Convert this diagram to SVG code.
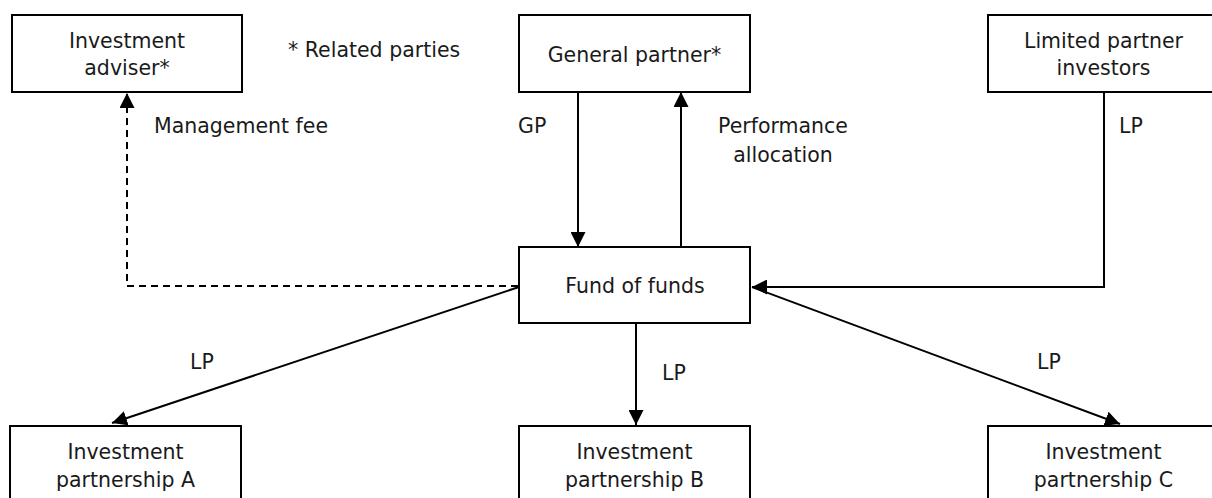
<svg xmlns="http://www.w3.org/2000/svg" width="1212" height="498" viewBox="0 0 1212 498">
<style>
.box{fill:#fff;stroke:#000;stroke-width:2}
.t{font-family:"DejaVu Sans",sans-serif;font-size:20.5px;fill:#1a1a1a}
.c{text-anchor:middle}
.ln{fill:none;stroke:#000;stroke-width:2}
.dash{stroke-dasharray:7,5}
</style>
<defs>
<marker id="ah" viewBox="0 0 15 15" refX="15" refY="7.5" markerWidth="15" markerHeight="15" markerUnits="userSpaceOnUse" orient="auto">
<path d="M0,0 L15,7.5 L0,15 Z" fill="#000"/>
</marker>
</defs>
<rect width="1212" height="498" fill="#fff"/>
<g id="connectors">
<path class="ln dash" d="M518,286 H127 V93" marker-end="url(#ah)"/>
<path class="ln" d="M578,92 V247" marker-end="url(#ah)"/>
<path class="ln" d="M681,247 V92" marker-end="url(#ah)"/>
<path class="ln" d="M1104,92 V287 H752" marker-end="url(#ah)"/>
<path class="ln" d="M519,287 L112,423" marker-end="url(#ah)"/>
<path class="ln" d="M636,323 V425" marker-end="url(#ah)"/>
<path class="ln" d="M752,287 L1120,424" marker-end="url(#ah)"/>
</g>
<g id="labels">
<text class="t" x="288" y="57">* Related parties</text>
<text class="t" x="154" y="133">Management fee</text>
<text class="t" x="518" y="133">GP</text>
<text class="t c" x="783" y="133">Performance</text>
<text class="t c" x="783" y="162">allocation</text>
<text class="t" x="1119" y="133">LP</text>
<text class="t" x="190" y="369">LP</text>
<text class="t" x="662" y="380">LP</text>
<text class="t" x="1037" y="369">LP</text>
</g>
<g id="investment-adviser">
<rect class="box" x="12" y="15" width="230" height="77"/>
<text class="t c" x="127" y="48">Investment</text>
<text class="t c" x="127" y="75">adviser*</text>
</g>
<g id="general-partner">
<rect class="box" x="519" y="15" width="231" height="77"/>
<text class="t c" x="634.5" y="62">General partner*</text>
</g>
<g id="limited-partner-investors">
<rect class="box" x="988" y="15" width="231" height="77"/>
<text class="t c" x="1103.5" y="48">Limited partner</text>
<text class="t c" x="1103.5" y="75">investors</text>
</g>
<g id="fund-of-funds">
<rect class="box" x="519" y="247" width="231" height="76"/>
<text class="t c" x="635" y="293">Fund of funds</text>
</g>
<g id="investment-partnership-a">
<rect class="box" x="10" y="426" width="231" height="80"/>
<text class="t c" x="125.5" y="459">Investment</text>
<text class="t c" x="125.5" y="487">partnership A</text>
</g>
<g id="investment-partnership-b">
<rect class="box" x="519" y="426" width="231" height="80"/>
<text class="t c" x="634.5" y="459">Investment</text>
<text class="t c" x="634.5" y="487">partnership B</text>
</g>
<g id="investment-partnership-c">
<rect class="box" x="988" y="426" width="231" height="80"/>
<text class="t c" x="1103.5" y="459">Investment</text>
<text class="t c" x="1103.5" y="487">partnership C</text>
</g>
</svg>
